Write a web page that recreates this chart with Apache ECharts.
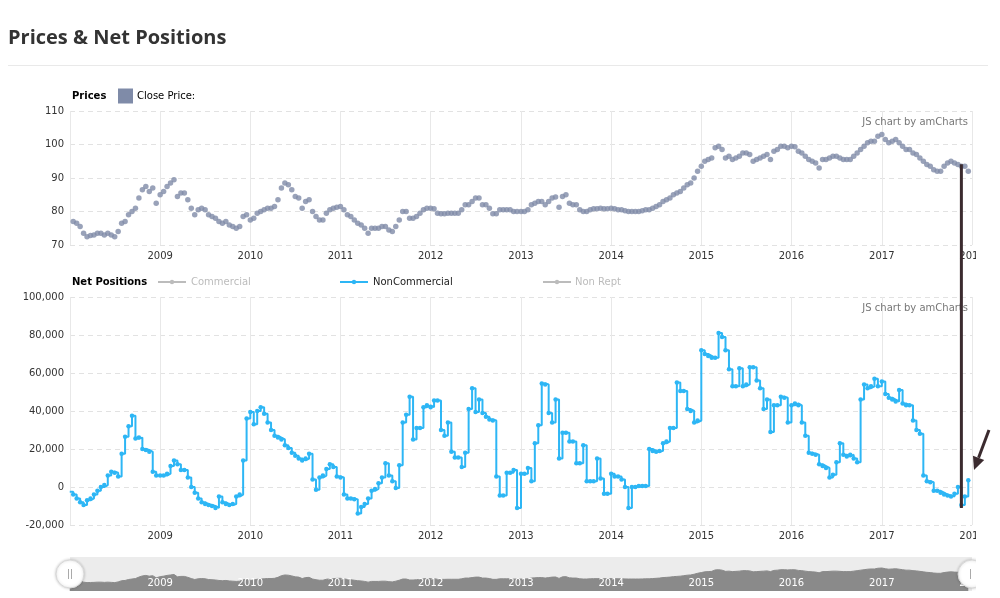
<!DOCTYPE html>
<html>
<head>
<meta charset="utf-8">
<script src="https://cdn.jsdelivr.net/npm/echarts@6/dist/echarts.min.js"></script>
<style>
html,body{margin:0;padding:0;background:#fff;}
#chart{width:1000px;height:598px;}
</style>
</head>
<body>
<div id="chart"></div>
<script>
// ---- data: one value per ~2 weeks, 26 per year ----
const years = [2008, 2009, 2010, 2011, 2012, 2013, 2014, 2015, 2016, 2017];
const stepDays = 14;

// Close price
const price2008 = [76.5,77,76.5,75.5,73.5,72.5,72.8,73,73.5,73.5,73,73.5,73,72.5,74,76.5,77,79,80,81,84,86.5,87.5,86,87,82.5];
const price2009 = [85,86,87.5,88.5,89.5,84.5,85.5,85.5,83.5,81,79,80.5,81,80.5,79,78.5,78,77,76.5,77,76,75.5,75,75.5,78.5,79];
const price2010 = [77.5,78,79.5,80,80.5,81,81,81.5,83.5,87,88.5,88,86.5,84.5,84,81,83,83.5,80,78.5,77.5,77.5,79.5,80.5,81,81.3];
const price2011 = [81.5,80.5,79,78.5,77.5,76.5,76,75,73.5,75,75,75,75.5,75.5,74.5,74,75.5,77.5,80,80,78,78,78.5,79.5,80.5,81];
const price2012 = [81,80.8,79.5,79.3,79.3,79.5,79.5,79.5,79.5,80.5,82,82,83,84,84,82,82,81,79.3,79.3,80.5,80.5,80.5,80.5,80,80];
const price2013 = [80,80,80.5,82,82.5,83,83,82,83,84,84.3,81.3,84.5,85,82.5,82,82,80.5,80,80,80.5,80.8,80.8,81,80.8,80.8];
const price2014 = [81,80.8,80.5,80.5,80.2,80,80,80,80,80.2,80.5,80.5,81,81.5,82,83,83.5,84,85,85.5,86,87,88,88.5,90,92];
const price2015 = [93.5,95,95.5,96,99,99.5,98.5,96,96.5,95.5,96,96.5,97.5,97.5,97,95,95.5,96,96.5,97,95.5,98,98.5,99.5,99.5,99];
const price2016 = [99.5,99.3,98,97.5,96.5,95.5,95,94.5,93,95.5,95.5,96,96.5,96.5,96,95.5,95.5,95.5,96.5,97.5,98.5,99.5,100.5,101,101,102.5];
const price2017 = [103,101.5,100.5,101,101.5,100.5,99.5,98.5,98.5,97.5,97,96,95,94,93.5,92.5,92,92,93.5,94.5,95,94.5,94,93.5,93.5,92];

// NonCommercial net positions (thousands of contracts)
const netK2008 = [-2.5,-4,-6,-8,-9.5,-7,-6,-4,-2,0,1,6,8,7.5,5.5,17.5,26.5,32,37.5,25.5,26,20,19.5,18.5,8,6];
const netK2009 = [6,6,7,11,14,12,9,9,5,0,-3,-6,-8,-9,-9.5,-10,-11,-5,-8,-9,-9.5,-9,-5,-4,14,36];
const netK2010 = [39.5,33,40,42,38.5,34,30,27,26,25,22,20.5,18,16.5,15,14,15,17.5,4,-1.5,5,6,9.5,12,10.5,5.5];
const netK2011 = [5,-4,-6,-6,-6.5,-14,-10.5,-9,-6,-2,-1,2,5,12.5,6,3,-0.5,11.5,34,38,47.5,25,31,31,42,43];
const netK2012 = [42,45.5,45.5,30,27,34,18.5,15.5,15.5,10.5,18,41,52,39.5,46,39,37,35.5,35,5.5,-4.5,-4.5,7.5,7.5,9,-11];
const netK2013 = [7,7,10,3,23,32.5,54.5,54,39,34,46,15,28.5,28.5,24,24,12.5,12.5,22,3,3,3,15,4.5,-3.5,-3.5];
const netK2014 = [7,5.5,5.5,4,0,-11,0,0,0.5,0.5,0.5,20,19,18.5,19,23,24,31,31,55,50.5,50.5,41,40,34,35];
const netK2015 = [72,70,69,68,68,81,79,72,62,53,53,62.5,53,54,63,63,56,52,41,46,29,43,43,47.5,47,34];
const netK2016 = [43,44,43,34,27,18,17.5,17,12,11,10,5,6.5,13,23,17,16,17,15,13,46,54,52,53,57,53];
const netK2017 = [55.5,49,47,46,45,51,44,43,43,35,30,28,6,3,2.5,-2,-2,-3,-4,-4.5,-5,-3.5,0,-9.5,-5,3.5];

const priceByYear = [price2008,price2009,price2010,price2011,price2012,price2013,price2014,price2015,price2016,price2017];
const netByYear = [netK2008,netK2009,netK2010,netK2011,netK2012,netK2013,netK2014,netK2015,netK2016,netK2017];

const yTicksPrice = {min: 70, max: 110, interval: 10};
const yTicksNet = {min: -20000, max: 100000, interval: 20000};

// ---- build series data ----
function dateFor(year, j) { return new Date(year, 0, 1 + j * stepDays).getTime(); }
const priceData = [], netData = [];
years.forEach((y, yi) => {
  priceByYear[yi].forEach((v, j) => priceData.push([dateFor(y, j), v]));
  netByYear[yi].forEach((v, j) => netData.push([dateFor(y, j), v * 1000]));
});

const chart = echarts.init(document.getElementById('chart'), null, {renderer: 'canvas'});
const FONT = 'DejaVu Sans';
const xMin = new Date(2008, 0, 2).getTime();
const xMax = new Date(2018, 0, 1).getTime();
const yearMs = 365 * 24 * 3600 * 1000;

function xAxisFor(i, inside) {
  return {
    type: 'time', gridIndex: i, min: xMin, max: xMax, z: inside ? 10 : 0,
    minInterval: yearMs, maxInterval: yearMs + 2 * 24 * 3600 * 1000,
    axisLine: {show: false}, axisTick: {show: false},
    axisLabel: {
      show: true, inside: !!inside, margin: inside ? 3 : 6,
      color: inside ? '#ffffff' : '#333', fontFamily: FONT, fontSize: 10,
      showMinLabel: false, showMaxLabel: true, hideOverlap: false,
      formatter: v => String(new Date(v).getFullYear())
    },
    splitLine: {show: !inside, lineStyle: {color: '#e8e8e8', width: 1, type: 'solid'}}
  };
}

const option = {
  animation: false,
  backgroundColor: '#fff',
  textStyle: {fontFamily: FONT},
  grid: [
    {left: 70, right: 28, top: 111, height: 134},
    {left: 70, right: 28, top: 297, height: 228},
    {left: 70, right: 28, top: 557, height: 34, show: true, backgroundColor: '#ececec', borderWidth: 0}
  ],
  xAxis: [xAxisFor(0), xAxisFor(1), xAxisFor(2, true)],
  yAxis: [
    {type: 'value', gridIndex: 0, min: yTicksPrice.min, max: yTicksPrice.max, interval: yTicksPrice.interval,
     axisLine: {show: false}, axisTick: {show: false},
     axisLabel: {color: '#333', fontFamily: FONT, fontSize: 10, margin: 6},
     splitLine: {lineStyle: {color: '#e2e2e2', type: [5, 4]}}},
    {type: 'value', gridIndex: 1, min: yTicksNet.min, max: yTicksNet.max, interval: yTicksNet.interval,
     axisLine: {show: false}, axisTick: {show: false},
     axisLabel: {color: '#333', fontFamily: FONT, fontSize: 10, margin: 6,
       formatter: v => v.toLocaleString('en-US')},
     splitLine: {lineStyle: {color: '#e2e2e2', type: [5, 4]}}},
    {type: 'value', gridIndex: 2, min: 55, max: 126, show: false, splitLine: {show: false}}
  ],
  series: [
    {name: 'Close Price', type: 'scatter', xAxisIndex: 0, yAxisIndex: 0, data: priceData,
     symbol: 'circle', symbolSize: 5.5, itemStyle: {color: '#7f8ba8'}},
    {name: 'NonCommercial', type: 'line', xAxisIndex: 1, yAxisIndex: 1, data: netData,
     step: 'end', symbol: 'circle', symbolSize: 4.5, showAllSymbol: true,
     lineStyle: {color: '#2db6f5', width: 2}, itemStyle: {color: '#2db6f5'}},
    {name: 'scroll', type: 'line', xAxisIndex: 2, yAxisIndex: 2, data: priceData,
     symbol: 'none', lineStyle: {color: '#8a8a8a', width: 1},
     areaStyle: {color: '#8a8a8a', opacity: 1}, z: 1}
  ]
};
chart.setOption(option);

// ---- decorations (text, legends, annotations) ----
const markIdx = 23;
const markDate = dateFor(2017, markIdx);
const pTop = chart.convertToPixel({gridIndex: 0}, [markDate, price2017[markIdx]]);
const pBot = chart.convertToPixel({gridIndex: 1}, [markDate, netK2017[markIdx] * 1000]);

function txt(text, x, y, opts) {
  return Object.assign({type: 'text', z: 50, style: Object.assign({
    text: text, x: x, y: y, fill: '#000', font: '10px "DejaVu Sans"', verticalAlign: 'middle'
  }, opts || {})});
}
function legLine(x, y, color) {
  return [
    {type: 'line', z: 50, shape: {x1: x, y1: y, x2: x + 28, y2: y}, style: {stroke: color, lineWidth: 2}},
    {type: 'circle', z: 51, shape: {cx: x + 14, cy: y, r: 2.2}, style: {fill: color}}
  ];
}
// arrow geometry
const aS = [989, 430], aT = [974, 470];
const dx = aT[0] - aS[0], dy = aT[1] - aS[1], dl = Math.sqrt(dx * dx + dy * dy);
const ux = dx / dl, uy = dy / dl, nx = -uy, ny = ux;
const aB = [aT[0] - 13 * ux, aT[1] - 13 * uy];

const graphics = [
  txt('Prices & Net Positions', 8, 38, {font: 'bold 20px "Open Sans"', fill: '#333'}),
  {type: 'line', z: 50, shape: {x1: 8, y1: 65.5, x2: 988, y2: 65.5}, style: {stroke: '#e9e9e9', lineWidth: 1}},
  txt('Prices', 72, 96, {font: 'bold 10px "DejaVu Sans"'}),
  {type: 'rect', z: 50, shape: {x: 118, y: 88.5, width: 15, height: 15}, style: {fill: '#7f8ba8'}},
  txt('Close Price:', 137, 96),
  txt('Net Positions', 72, 282, {font: 'bold 10px "DejaVu Sans"'}),
  ...legLine(158, 282, '#bcbcbc'),
  txt('Commercial', 191, 282, {fill: '#bcbcbc'}),
  ...legLine(340, 282, '#2db6f5'),
  txt('NonCommercial', 373, 282, {fill: '#222'}),
  ...legLine(543, 282, '#bcbcbc'),
  txt('Non Rept', 575, 282, {fill: '#bcbcbc'}),
  txt('JS chart by amCharts', 968, 122, {align: 'right', fill: '#777'}),
  txt('JS chart by amCharts', 968, 308, {align: 'right', fill: '#777'}),
  // scrollbar handles
  {type: 'circle', z: 60, shape: {cx: 70, cy: 574, r: 14}, style: {fill: '#fff', stroke: '#d8d8d8', lineWidth: 1, shadowBlur: 3, shadowColor: 'rgba(0,0,0,0.2)'}},
  {type: 'line', z: 61, shape: {x1: 68.5, y1: 569, x2: 68.5, y2: 579}, style: {stroke: '#aaa', lineWidth: 1}},
  {type: 'line', z: 61, shape: {x1: 71.5, y1: 569, x2: 71.5, y2: 579}, style: {stroke: '#aaa', lineWidth: 1}},
  {type: 'circle', z: 60, shape: {cx: 972, cy: 574, r: 14}, style: {fill: '#fff', stroke: '#d8d8d8', lineWidth: 1, shadowBlur: 3, shadowColor: 'rgba(0,0,0,0.2)'}},
  {type: 'line', z: 61, shape: {x1: 970.5, y1: 569, x2: 970.5, y2: 579}, style: {stroke: '#aaa', lineWidth: 1}},
  // right edge of the chart container
  {type: 'rect', z: 70, shape: {x: 976, y: 75, width: 30, height: 530}, style: {fill: '#fff'}},
  // annotation: vertical line and arrow
  {type: 'line', z: 80, shape: {x1: pTop[0], y1: pTop[1] - 2, x2: pBot[0], y2: pBot[1] + 3}, style: {stroke: '#3b2b2f', lineWidth: 3}},
  {type: 'line', z: 80, shape: {x1: aS[0], y1: aS[1], x2: aB[0], y2: aB[1]}, style: {stroke: '#3b2b2f', lineWidth: 3}},
  {type: 'polygon', z: 80, shape: {points: [aT, [aB[0] + 6 * nx, aB[1] + 6 * ny], [aB[0] - 6 * nx, aB[1] - 6 * ny]]}, style: {fill: '#3b2b2f'}}
];
chart.setOption({graphic: graphics});
</script>
</body>
</html>
